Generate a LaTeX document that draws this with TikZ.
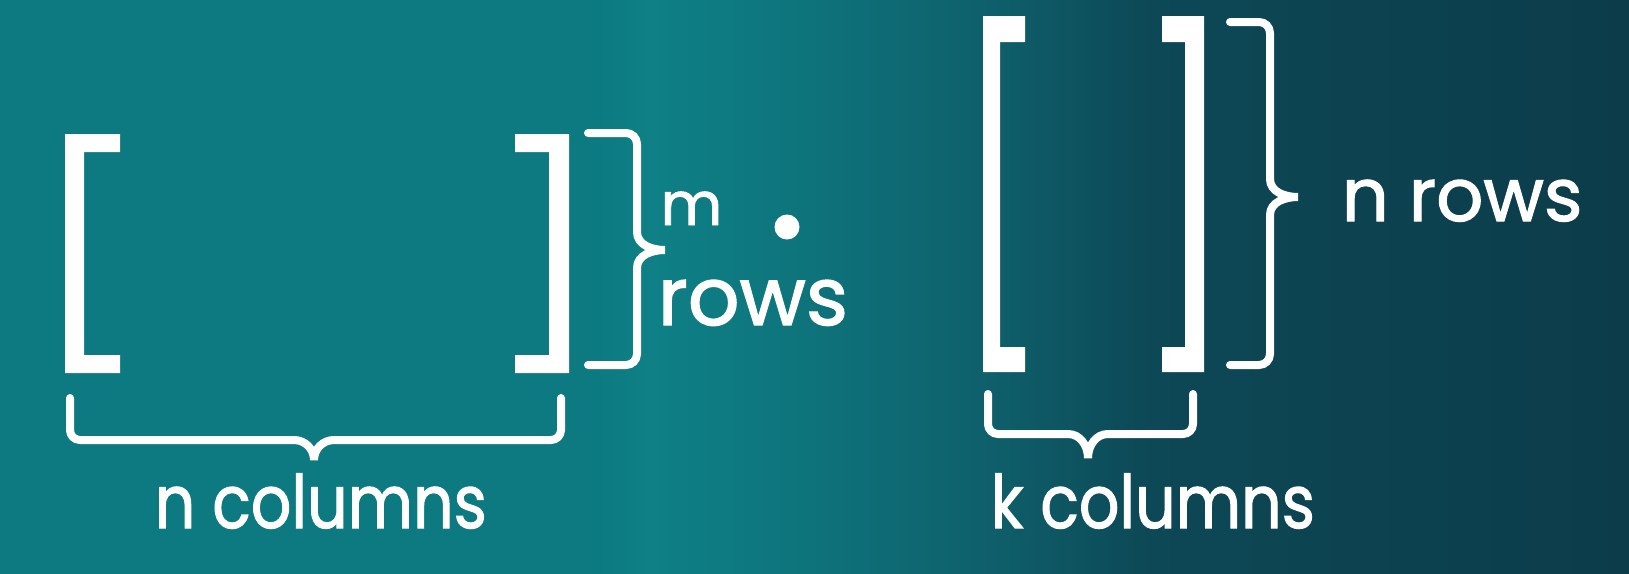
\documentclass[tikz,border=0pt]{standalone}
\usepackage{fontspec}
\setmainfont{Poppins}
\newfontfamily\handfont{Poppins}[FakeBold=1.6]
\usepackage{tikz}
\usetikzlibrary{positioning}

\definecolor{bgA}{RGB}{12,122,128}
\definecolor{bgB}{RGB}{14,128,134}
\definecolor{bgC}{RGB}{14,116,124}
\definecolor{bgD}{RGB}{14,94,106}
\definecolor{bgE}{RGB}{13,72,86}
\definecolor{bgF}{RGB}{12,60,74}

\pgfdeclarehorizontalshading{bgshade}{100bp}{color(0bp)=(bgA); color(25bp)=(bgA);
  color(43bp)=(bgA); color(45bp)=(bgB); color(49.6bp)=(bgC); color(55.7bp)=(bgD);
  color(60.3bp)=(bgE); color(75bp)=(bgF); color(100bp)=(bgF)}

\newcommand{\narrow}[1]{\scalebox{0.86}[1]{#1}}

\tikzset{
  brk/.style={fill=white},
  curl/.style={draw=white, line width=0.8mm, line cap=round},
  lbl/.style={text=white, inner sep=0pt, anchor=base west,
              font=\handfont\fontsize{21}{24}\selectfont}
}

\begin{document}
\begin{tikzpicture}[x=0.1mm, y=-0.1mm]

    % Background
    \useasboundingbox (0,0) rectangle (1629,573);
    \shade[shading=bgshade] (0,0) rectangle (1629,573);

    % First matrix: m x n
    \fill[brk] (65,134) -- (120,134) -- (120,152) -- (84,152) -- (84,355)
      -- (120,355) -- (120,373) -- (65,373) -- cycle;
    \fill[brk] (515,134) -- (569,134) -- (569,373) -- (515,373) -- (515,355)
      -- (549,355) -- (549,152) -- (515,152) -- cycle;

    % rows brace
    \draw[curl] (588,133) -- (626,133) to[out=0,in=90] (637,144) -- (637,232)
      to[out=-90,in=180] (665,250) to[out=180,in=90] (637,268) -- (637,354)
      to[out=-90,in=0] (626,365) -- (588,365);
    \node[lbl, font=\handfont\fontsize{17}{20}\selectfont] (mlbl) at (660,225) {m};
    \node[lbl, font=\handfont\fontsize{23}{26}\selectfont] (mrows) at (657,325) {rows};

    % columns brace
    \draw[curl] (70,398) -- (70,430) to[out=-90,in=180] (80,440) -- (294,440)
      to[out=0,in=90] (314,460) to[out=90,in=180] (334,440) -- (551,440)
      to[out=0,in=-90] (561,430) -- (561,398);
    \node[lbl] (ncols) at (154,528) {\narrow{n columns}};

    % product dot
    \fill[white] (787,227) circle[radius=1.25mm];

    % Second matrix: n x k
    \fill[brk] (983,16) -- (1025,16) -- (1025,42) -- (1000,42) -- (1000,347)
      -- (1025,347) -- (1025,372) -- (983,372) -- cycle;
    \fill[brk] (1162,16) -- (1204,16) -- (1204,372) -- (1162,372) -- (1162,347)
      -- (1185,347) -- (1185,42) -- (1162,42) -- cycle;

    % rows brace
    \draw[curl] (1230,22) -- (1259,22) to[out=0,in=90] (1270,33) -- (1270,179)
      to[out=-90,in=180] (1298,197) to[out=180,in=90] (1270,215) -- (1270,354)
      to[out=-90,in=0] (1259,365) -- (1230,365);
    \node[lbl] (nrows) at (1341,221) {n rows};

    % columns brace
    \draw[curl] (988,394) -- (988,424) to[out=-90,in=180] (998,434) -- (1068,434)
      to[out=0,in=90] (1088,458) to[out=90,in=180] (1108,434) -- (1183,434)
      to[out=0,in=-90] (1193,424) -- (1193,394);
    \node[lbl] (kcols) at (990,528) {\narrow{k columns}};

\end{tikzpicture}
\end{document}
